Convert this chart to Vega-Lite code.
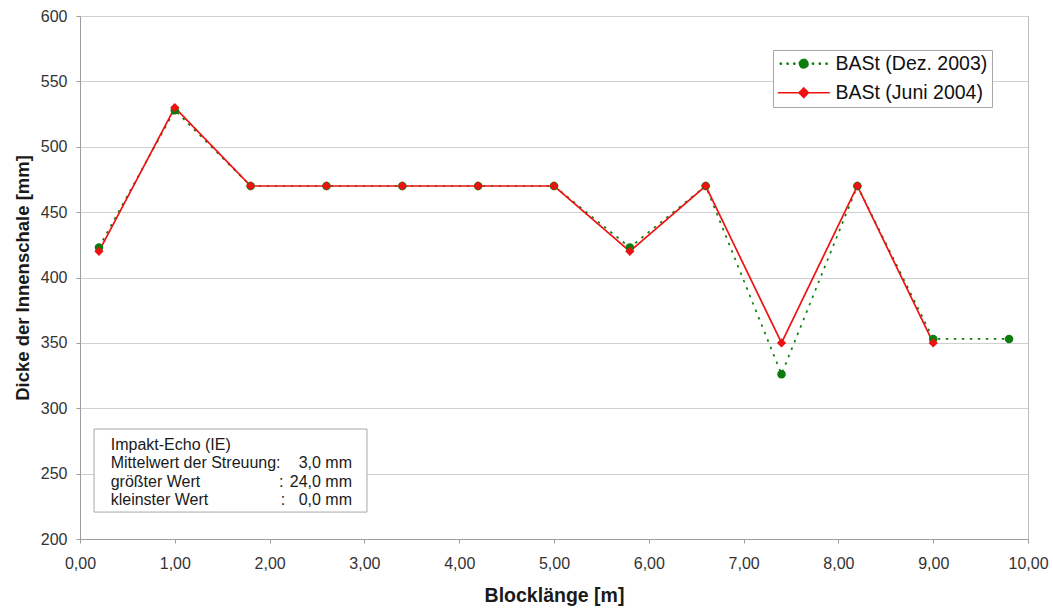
{
  "$schema": "https://vega.github.io/schema/vega-lite/v6.json",
  "width": 948,
  "height": 523,
  "autosize": {"type": "none"},
  "padding": {"left": 80, "top": 16, "right": 25, "bottom": 69},
  "background": "white",
  "config": {
    "font": "Liberation Sans",
    "view": {"stroke": "#bdbdbd", "strokeWidth": 1},
    "axis": {
      "labelFont": "Liberation Sans",
      "labelFontSize": 16,
      "labelColor": "#333333",
      "titleFont": "Liberation Sans",
      "titleFontWeight": "bold",
      "titleColor": "#1a1a1a",
      "domainColor": "#9e9e9e",
      "tickColor": "#9e9e9e",
      "tickSize": 4,
      "gridColor": "#cfcfcf",
      "gridWidth": 1.2
    }
  },
  "datasets": {
    "messung": [
      {"x": 0.2, "y": 423, "serie": "BASt (Dez. 2003)"},
      {"x": 1.0, "y": 528, "serie": "BASt (Dez. 2003)"},
      {"x": 1.8, "y": 470, "serie": "BASt (Dez. 2003)"},
      {"x": 2.6, "y": 470, "serie": "BASt (Dez. 2003)"},
      {"x": 3.4, "y": 470, "serie": "BASt (Dez. 2003)"},
      {"x": 4.2, "y": 470, "serie": "BASt (Dez. 2003)"},
      {"x": 5.0, "y": 470, "serie": "BASt (Dez. 2003)"},
      {"x": 5.8, "y": 423, "serie": "BASt (Dez. 2003)"},
      {"x": 6.6, "y": 470, "serie": "BASt (Dez. 2003)"},
      {"x": 7.4, "y": 326, "serie": "BASt (Dez. 2003)"},
      {"x": 8.2, "y": 470, "serie": "BASt (Dez. 2003)"},
      {"x": 9.0, "y": 353, "serie": "BASt (Dez. 2003)"},
      {"x": 9.8, "y": 353, "serie": "BASt (Dez. 2003)"},
      {"x": 0.2, "y": 420, "serie": "BASt (Juni 2004)"},
      {"x": 1.0, "y": 530, "serie": "BASt (Juni 2004)"},
      {"x": 1.8, "y": 470, "serie": "BASt (Juni 2004)"},
      {"x": 2.6, "y": 470, "serie": "BASt (Juni 2004)"},
      {"x": 3.4, "y": 470, "serie": "BASt (Juni 2004)"},
      {"x": 4.2, "y": 470, "serie": "BASt (Juni 2004)"},
      {"x": 5.0, "y": 470, "serie": "BASt (Juni 2004)"},
      {"x": 5.8, "y": 420, "serie": "BASt (Juni 2004)"},
      {"x": 6.6, "y": 470, "serie": "BASt (Juni 2004)"},
      {"x": 7.4, "y": 350, "serie": "BASt (Juni 2004)"},
      {"x": 8.2, "y": 470, "serie": "BASt (Juni 2004)"},
      {"x": 9.0, "y": 350, "serie": "BASt (Juni 2004)"}
    ],
    "kasten": [
      {"x": 0.148, "x2": 3.027, "y": 284.1, "y2": 220.6}
    ],
    "infoLinks": [
      {"x": 0.324, "y": 271.9, "text": "Impakt-Echo (IE)"},
      {"x": 0.324, "y": 258.1, "text": "Mittelwert der Streuung:"},
      {"x": 0.324, "y": 243.6, "text": "größter Wert"},
      {"x": 0.324, "y": 229.8, "text": "kleinster Wert"}
    ],
    "infoDoppelpunkt": [
      {"x": 2.1, "y": 243.6, "text": ":"},
      {"x": 2.117, "y": 229.8, "text": ":"}
    ],
    "infoWerte": [
      {"x": 2.869, "y": 258.1, "text": "3,0 mm"},
      {"x": 2.869, "y": 243.6, "text": "24,0 mm"},
      {"x": 2.869, "y": 229.8, "text": "0,0 mm"}
    ]
  },
  "resolve": {
    "legend": {"color": "independent", "shape": "independent", "size": "independent", "strokeDash": "independent"}
  },
  "layer": [
    {
      "data": {"name": "kasten"},
      "mark": {"type": "rect", "fill": "white", "stroke": "#a8a8a8", "strokeWidth": 1},
      "encoding": {
        "x": {"field": "x", "type": "quantitative", "scale": {"domain": [0, 10]}},
        "x2": {"field": "x2"},
        "y": {"field": "y", "type": "quantitative", "scale": {"domain": [200, 600]}},
        "y2": {"field": "y2"}
      }
    },
    {
      "data": {"name": "infoLinks"},
      "mark": {"type": "text", "align": "left", "baseline": "middle", "fontSize": 16, "color": "#1a1a1a", "font": "Liberation Sans"},
      "encoding": {
        "x": {"field": "x", "type": "quantitative"},
        "y": {"field": "y", "type": "quantitative"},
        "text": {"field": "text"}
      }
    },
    {
      "data": {"name": "infoDoppelpunkt"},
      "mark": {"type": "text", "align": "left", "baseline": "middle", "fontSize": 16, "color": "#1a1a1a", "font": "Liberation Sans"},
      "encoding": {
        "x": {"field": "x", "type": "quantitative"},
        "y": {"field": "y", "type": "quantitative"},
        "text": {"field": "text"}
      }
    },
    {
      "data": {"name": "infoWerte"},
      "mark": {"type": "text", "align": "right", "baseline": "middle", "fontSize": 16, "color": "#1a1a1a", "font": "Liberation Sans"},
      "encoding": {
        "x": {"field": "x", "type": "quantitative"},
        "y": {"field": "y", "type": "quantitative"},
        "text": {"field": "text"}
      }
    },
    {
      "data": {"name": "messung"},
      "mark": {"type": "line", "strokeWidth": 1.7},
      "encoding": {
        "x": {
          "field": "x", "type": "quantitative",
          "scale": {"domain": [0, 10], "nice": false},
          "title": "Blocklänge [m]",
          "axis": {
            "values": [0, 1, 2, 3, 4, 5, 6, 7, 8, 9, 10],
            "labelExpr": "replace(format(datum.value, '.2f'), '.', ',')",
            "labelFlush": false,
            "grid": false,
            "labelPadding": 12,
            "titleFontSize": 19.5,
            "titlePadding": 15
          }
        },
        "y": {
          "field": "y", "type": "quantitative",
          "scale": {"domain": [200, 600], "nice": false, "zero": false},
          "title": "Dicke der Innenschale [mm]",
          "axis": {
            "values": [200, 250, 300, 350, 400, 450, 500, 550, 600],
            "grid": true,
            "labelPadding": 9,
            "titleFontSize": 18.5,
            "titlePadding": 8
          }
        },
        "color": {
          "field": "serie", "type": "nominal",
          "scale": {"domain": ["BASt (Dez. 2003)", "BASt (Juni 2004)"], "range": ["#0c7d0c", "#ee1111"]},
          "legend": {
            "title": null,
            "orient": "none",
            "legendX": 693,
            "legendY": 34,
            "fillColor": "white",
            "strokeColor": "#a8a8a8",
            "padding": 4,
            "labelFont": "Liberation Sans",
            "labelFontSize": 19.5,
            "labelColor": "#111111",
            "labelExpr": "datum.label + '\u00a0\u00a0\u00a0\u00a0\u00a0'",
            "symbolOffset": 17,
            "labelOffset": 22,
            "rowPadding": 8,
            "encode": {
              "symbols": {
                "update": {
                  "shape": {"signal": "datum.value === 'BASt (Dez. 2003)' ? 'M-0.19,0A0.19,0.19 0 1 1 0.19,0A0.19,0.19 0 1 1 -0.19,0ZM-0.93,0A0.05,0.05 0 1 1 -0.83,0A0.05,0.05 0 1 1 -0.93,0ZM-0.67,0A0.05,0.05 0 1 1 -0.57,0A0.05,0.05 0 1 1 -0.67,0ZM-0.41,0A0.05,0.05 0 1 1 -0.31,0A0.05,0.05 0 1 1 -0.41,0ZM0.31,0A0.05,0.05 0 1 1 0.41,0A0.05,0.05 0 1 1 0.31,0ZM0.57,0A0.05,0.05 0 1 1 0.67,0A0.05,0.05 0 1 1 0.57,0ZM0.83,0A0.05,0.05 0 1 1 0.93,0A0.05,0.05 0 1 1 0.83,0Z' : 'M-1,0H1M0,-0.18L0.18,0L0,0.18L-0.18,0Z'"},
                  "size": {"value": 2704},
                  "fill": {"signal": "datum.value === 'BASt (Dez. 2003)' ? '#0c7d0c' : '#ee1111'"},
                  "stroke": {"signal": "datum.value === 'BASt (Dez. 2003)' ? '#0c7d0c' : '#ee1111'"},
                  "strokeWidth": {"signal": "datum.value === 'BASt (Dez. 2003)' ? 0.5 : 1.7"},
                  "strokeDash": {"value": []},
                  "opacity": {"value": 1}
                }
              }
            }
          }
        },
        "strokeDash": {
          "field": "serie", "type": "nominal",
          "scale": {"domain": ["BASt (Dez. 2003)", "BASt (Juni 2004)"], "range": [[2.5, 5.5], [1, 0]]},
          "legend": null
        }
      }
    },
    {
      "data": {"name": "messung"},
      "mark": {"type": "point", "filled": true, "opacity": 1},
      "encoding": {
        "x": {"field": "x", "type": "quantitative"},
        "y": {"field": "y", "type": "quantitative"},
        "color": {"field": "serie", "type": "nominal", "legend": null},
        "shape": {
          "field": "serie", "type": "nominal",
          "scale": {"domain": ["BASt (Dez. 2003)", "BASt (Juni 2004)"], "range": ["circle", "diamond"]},
          "legend": null
        },
        "size": {
          "field": "serie", "type": "nominal",
          "scale": {"domain": ["BASt (Dez. 2003)", "BASt (Juni 2004)"], "range": [72, 85]},
          "legend": null
        }
      }
    }
  ]
}
